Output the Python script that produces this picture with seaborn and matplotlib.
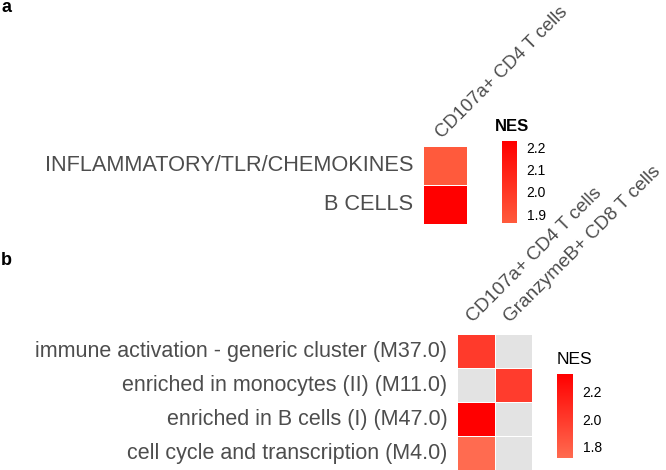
import matplotlib
matplotlib.use("Agg")
import matplotlib.pyplot as plt
from matplotlib.colors import LinearSegmentedColormap
import numpy as np
import pandas as pd
import seaborn as sns

sns.set_theme(style="white")
plt.rcParams['font.family'] = ['Liberation Sans', 'DejaVu Sans']

# panel a
a_rows = ["INFLAMMATORY/TLR/CHEMOKINES", "B CELLS"]
a_cols = ["CD107a+ CD4 T cells"]
a_nes = [1.86, 2.23]
a_ticks = [1.9, 2.0, 2.1, 2.2]

# panel b
b_rows = ["immune activation - generic cluster (M37.0)",
          "enriched in monocytes (II) (M11.0)",
          "enriched in B cells (I) (M47.0)",
          "cell cycle and transcription (M4.0)"]
b_cols = ["CD107a+ CD4 T cells", "GranzymeB+ CD8 T cells"]
b_cd107a = [2.00, np.nan, 2.33, 1.72]
b_gzmb = [np.nan, 1.99, np.nan, np.nan]
b_ticks = [1.8, 2.0, 2.2]

label_grey = "#4D4D4D"
na_grey = "#E3E3E3"

W, H = 666, 470


def box(x0, y0, x1, y1):
    # pixel box -> figure fraction rect
    return [x0 / W, 1 - y1 / H, (x1 - x0) / W, (y1 - y0) / H]


def draw(fig, df, hm_box, cb_box, low, ticks, row_size, col_size, col_pad):
    ax = fig.add_axes(box(*hm_box))
    cax = fig.add_axes(box(*cb_box))
    cmap = LinearSegmentedColormap.from_list("nes", [low, "#FF0000"])
    ax.set_facecolor(na_grey)
    sns.heatmap(df, ax=ax, cbar_ax=cax, cmap=cmap,
                linewidths=0.4, linecolor="white",
                cbar_kws={"ticks": ticks})
    ax.xaxis.tick_top()
    ax.set_xlabel("")
    ax.set_ylabel("")
    ax.tick_params(axis="x", length=0, pad=col_pad)
    ax.tick_params(axis="y", length=0, pad=7)
    ax.set_xticklabels(df.columns, rotation=45, ha="left", va="bottom",
                       rotation_mode="anchor", fontsize=col_size,
                       color=label_grey)
    ax.set_yticklabels(df.index, rotation=0, fontsize=row_size,
                       color=label_grey)
    cb = ax.collections[0].colorbar
    cb.outline.set_visible(False)
    cax.yaxis.set_ticks_position("both")
    cax.tick_params(axis="y", which="both", direction="in", length=3,
                    width=0.8, color="white", labelsize=10, pad=7,
                    labelcolor="black", labelright=True, labelleft=False)
    cax.set_yticklabels(["%.1f" % t for t in ticks])
    return ax


fig = plt.figure(figsize=(W / 100, H / 100), dpi=100)

df_a = pd.DataFrame({a_cols[0]: a_nes}, index=a_rows)
draw(fig, df_a, (423, 146, 467, 224), (502, 141, 517, 223),
     "#FF5A3C", a_ticks, 15.7, 13.3, 3)

df_b = pd.DataFrame({b_cols[0]: b_cd107a, b_cols[1]: b_gzmb}, index=b_rows)
draw(fig, df_b, (457, 334, 532, 470), (557, 374, 573, 458),
     "#FF6B50", b_ticks, 15.5, 13.7, 6)

fig.text(495 / W, 1 - 131 / H, "NES", fontsize=12, fontweight="bold",
         color="black", ha="left", va="baseline")
fig.text(557 / W, 1 - 364 / H, "NES", fontsize=12.5,
         color="black", ha="left", va="baseline")
fig.text(1 / W, 1 - 12 / H, "a", fontsize=13, fontweight="bold",
         color="black", ha="left", va="baseline")
fig.text(1 / W, 1 - 265 / H, "b", fontsize=13, fontweight="bold",
         color="black", ha="left", va="baseline")

fig.savefig("out.png", dpi=100)
